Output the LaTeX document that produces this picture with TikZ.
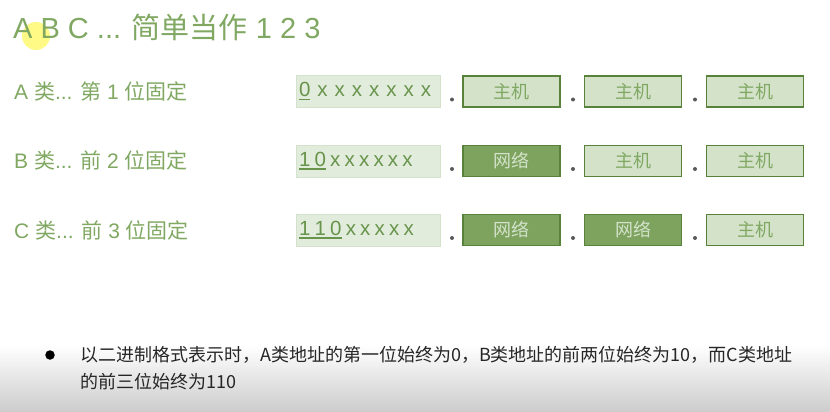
\documentclass[tikz,border=0pt]{standalone}
\usepackage{fontspec}
\setmainfont{Liberation Sans}
\newfontfamily\cjk{Noto Sans CJK SC}
\definecolor{T}{RGB}{128,168,98}
\definecolor{B}{RGB}{104,148,76}
\definecolor{D}{RGB}{88,130,58}
\definecolor{H}{RGB}{211,226,201}
\definecolor{N}{RGB}{125,163,95}
\definecolor{F}{RGB}{226,236,220}
\definecolor{E}{RGB}{212,225,203}
\newcommand{\bitlead}[1]{\setbox0\hbox{#1}\rlap{\rule[-3.5pt]{\wd0}{1.6pt}}\box0}
\newcommand{\gapA}{\kern7pt}
\newcommand{\gapB}{\kern4.2pt}
\tikzset{
  headline/.style={anchor=west,text=T,font=\fontsize{29}{29}\selectfont,inner sep=0pt},
  rowlabel/.style={anchor=west,text=T,font=\fontsize{21}{21}\selectfont,inner sep=0pt},
  firstbyte/.style={draw=E,line width=1pt,fill=F,minimum height=32pt,text width=138pt,
    inner sep=3pt,align=left,text=B,font=\fontsize{20.5}{20.5}\selectfont},
  hostbyte/.style={draw=D,line width=1.6pt,fill=H,minimum width=97pt,minimum height=31pt,
    text=T,font=\fontsize{18}{18}\cjk},
  netbyte/.style={hostbyte,fill=N,text=H},
  sepdot/.style={circle,fill=black!65,inner sep=0pt,minimum size=4pt}
}
\begin{document}
\begin{tikzpicture}[x=1pt,y=-1pt]
\useasboundingbox (0,0) rectangle (830,412);
\shade[top color=white,bottom color=black!20] (0,345) rectangle (830,412);
\fill[yellow!60!white,opacity=.8] (36,36) circle (14);
\node[headline] (head) at (13,27) {A B C ... {\cjk 简单当作} 1 2 3};
% class A
\node[rowlabel] (la) at (14,91) {A {\cjk 类}... {\cjk 第} 1 {\cjk 位固定}};
\node[firstbyte] (a0) at (368,91.5) {\bitlead{0}\gapA x\gapA x\gapA x\gapA x\gapA x\gapA x\gapA x};
\node[hostbyte] (a1) at (511.5,91.5) {主机};
\node[hostbyte] (a2) at (633,91.5) {主机};
\node[hostbyte] (a3) at (755,91.5) {主机};
\node[sepdot] (da1) at (452,99.5) {};
\node[sepdot] (da2) at (573,99.5) {};
\node[sepdot] (da3) at (695,99.5) {};
% class B
\node[rowlabel] (lb) at (14,160) {B {\cjk 类}... {\cjk 前} 2 {\cjk 位固定}};
\node[firstbyte] (b0) at (368,161) {\bitlead{1\gapB 0}\gapB x\gapB x\gapB x\gapB x\gapB x\gapB x};
\node[netbyte] (b1) at (511.5,161) {网络};
\node[hostbyte] (b2) at (633,161) {主机};
\node[hostbyte] (b3) at (755,161) {主机};
\node[sepdot] (db1) at (452,169) {};
\node[sepdot] (db2) at (573,169) {};
\node[sepdot] (db3) at (695,169) {};
% class C
\node[rowlabel] (lc) at (14,230) {C {\cjk 类}... {\cjk 前} 3 {\cjk 位固定}};
\node[firstbyte] (c0) at (368,230) {\bitlead{1\gapB 1\gapB 0}\gapB x\gapB x\gapB x\gapB x\gapB x};
\node[netbyte] (c1) at (511.5,230) {网络};
\node[netbyte] (c2) at (633,230) {网络};
\node[hostbyte] (c3) at (755,230) {主机};
\node[sepdot] (dc1) at (452,238) {};
\node[sepdot] (dc2) at (573,238) {};
\node[sepdot] (dc3) at (695,238) {};
% note
\node[circle,fill=black,inner sep=0pt,minimum size=9.5pt] (bullet) at (50,355) {};
\node[anchor=north west,inner sep=0pt,text=black!85,text width=740pt,align=left,
  font=\fontsize{18}{27}\cjk] (note) at (80,346)
  {以二进制格式表示时，A类地址的第一位始终为0，B类地址的前两位始终为10，而C类地址\\的前三位始终为110};
\end{tikzpicture}
\end{document}
